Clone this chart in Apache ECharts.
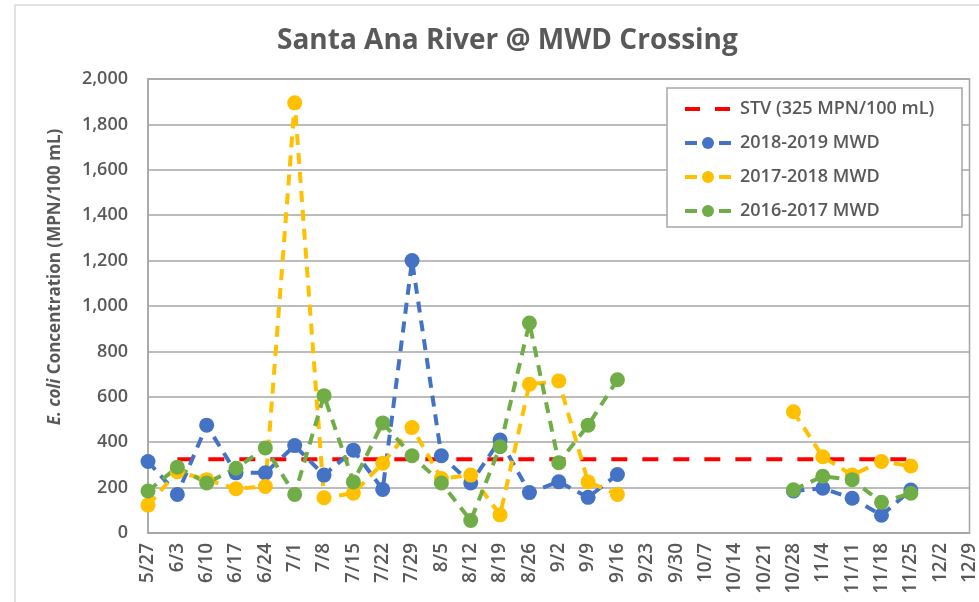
<!DOCTYPE html>
<html>
<head>
<meta charset="utf-8">
<script src="https://cdn.jsdelivr.net/npm/echarts@6/dist/echarts.min.js"></script>
<style>
  html, body { margin: 0; padding: 0; background: #fff; }
  #chart { width: 979px; height: 602px; }
</style>
</head>
<body>
<div id="chart"></div>
<script>
const weeks = ['5/27', '6/3', '6/10', '6/17', '6/24', '7/1', '7/8', '7/15', '7/22', '7/29',
  '8/5', '8/12', '8/19', '8/26', '9/2', '9/9', '9/16', '9/23', '9/30', '10/7',
  '10/14', '10/21', '10/28', '11/4', '11/11', '11/18', '11/25', '12/2', '12/9'];

const stv = [null, 325, 325, 325, 325, 325, 325, 325, 325, 325,
  325, 325, 325, 325, 325, 325, 325, 325, 325, 325,
  325, 325, 325, 325, 325, 325, 325, null, null];

const mwd1819 = [315, 170, 475, 265, 265, 385, 255, 365, 192, 1200,
  340, 220, 410, 178, 226, 157, 258, null, null, null,
  null, null, 185, 197, 153, 78, 189, null, null];

const mwd1718 = [123, 270, 235, 195, 205, 1895, 155, 175, 307, 465,
  240, 255, 80, 655, 670, 225, 170, null, null, null,
  null, null, 534, 336, 255, 315, 295, null, null];

const mwd1617 = [185, 290, 220, 285, 375, 170, 605, 225, 485, 340,
  220, 55, 380, 925, 310, 475, 675, null, null, null,
  null, null, 190, 250, 235, 135, 175, null, null];

const yTicks = { min: 0, max: 2000, interval: 200 };

const font = 'Open Sans';
const grayText = '#595959';

const chart = echarts.init(document.getElementById('chart'));

const dotted = (name, color, data) => ({
  name,
  type: 'line',
  data,
  connectNulls: false,
  symbol: 'circle',
  symbolSize: 15,
  itemStyle: { color },
  lineStyle: { color, width: 4, type: [11, 8] },
  emphasis: { disabled: true },
});

const legendIcon = { type: [12, 22], width: 4 };

const config = {
  animation: false,
  textStyle: { fontFamily: font },
  title: {
    text: 'Santa Ana River @ MWD Crossing',
    left: 272,
    top: 22,
    textStyle: { fontFamily: font, fontSize: 28, fontWeight: 'bold', color: grayText },
  },
  grid: {
    left: 148,
    right: 9,
    top: 79,
    bottom: 69,
    show: true,
    borderColor: '#a6a6a6',
    borderWidth: 1.5,
  },
  legend: {
    orient: 'vertical',
    left: 683,
    top: 99,
    z: 6,
    itemWidth: 46,
    itemHeight: 15,
    itemGap: 14,
    padding: 0,
    textStyle: { fontFamily: font, fontSize: 18, fontWeight: 600, lineHeight: 20, color: grayText, padding: [0, 0, 0, 4] },
    data: [
      { name: 'STV (325 MPN/100 mL)', itemStyle: { opacity: 0 }, lineStyle: { type: [15, 15], width: 4 } },
      { name: '2018-2019 MWD', lineStyle: legendIcon },
      { name: '2017-2018 MWD', lineStyle: legendIcon },
      { name: '2016-2017 MWD', lineStyle: legendIcon },
    ],
  },
  graphic: [
    {
      type: 'rect',
      silent: true,
      z: -10,
      shape: { x: 15, y: 5, width: 1000, height: 1000 },
      style: { fill: 'none', stroke: '#d9d9d9', lineWidth: 1.5 },
    },
    {
      type: 'rect',
      silent: true,
      z: 5,
      shape: { x: 667, y: 88, width: 295, height: 139 },
      style: { fill: '#fff', stroke: '#a6a6a6', lineWidth: 1.5 },
    },
    {
      type: 'text',
      silent: true,
      x: 55,
      y: 277,
      rotation: Math.PI / 2,
      style: {
        text: '{i|E. coli} Concentration (MPN/100 mL)',
        fill: grayText,
        font: 'bold 17px "Open Sans"',
        align: 'center',
        verticalAlign: 'middle',
        rich: {
          i: { fontStyle: 'italic', fontWeight: 'bold', fontSize: 17, fontFamily: font, fill: grayText },
        },
      },
    },
  ],
  xAxis: {
    type: 'category',
    data: weeks,
    boundaryGap: false,
    axisLine: { lineStyle: { color: '#a6a6a6', width: 1.5 } },
    axisTick: { show: false },
    axisLabel: {
      rotate: 90,
      interval: 0,
      margin: 10,
      fontFamily: font,
      fontSize: 19,
      fontWeight: 600,
      color: grayText,
    },
    splitLine: { show: false },
  },
  yAxis: {
    type: 'value',
    min: yTicks.min,
    max: yTicks.max,
    interval: yTicks.interval,
    axisLine: { show: true, lineStyle: { color: '#a6a6a6', width: 1.5 } },
    axisTick: { show: false },
    axisLabel: {
      margin: 20,
      fontFamily: font,
      fontSize: 18,
      fontWeight: 600,
      color: grayText,
      formatter: (v) => v.toLocaleString('en-US'),
    },
    splitLine: { lineStyle: { color: '#a6a6a6', width: 1.5 } },
  },
  series: [
    {
      name: 'STV (325 MPN/100 mL)',
      type: 'line',
      data: stv,
      symbol: 'none',
      itemStyle: { color: '#ff0000' },
      lineStyle: { color: '#ff0000', width: 4, type: [16, 15] },
      emphasis: { disabled: true },
    },
    dotted('2018-2019 MWD', '#4472c4', mwd1819),
    dotted('2017-2018 MWD', '#ffc000', mwd1718),
    dotted('2016-2017 MWD', '#70ad47', mwd1617),
  ],
};

chart.setOption(config);
</script>
</body>
</html>
